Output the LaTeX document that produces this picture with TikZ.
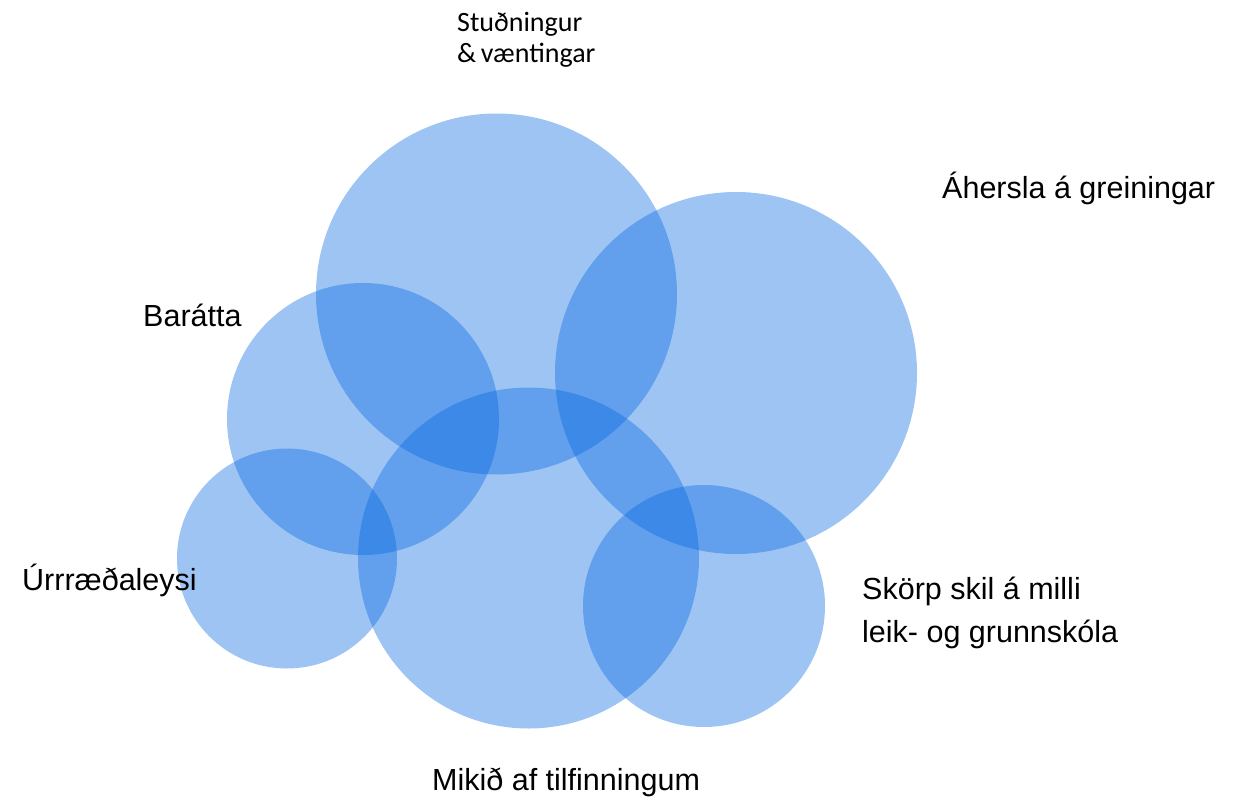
\documentclass[tikz,border=0pt]{standalone}
\usepackage{fontspec}
\setmainfont{Liberation Sans}
\newfontfamily\cali{Carlito}
\definecolor{bubble}{RGB}{0,100,225}
\begin{document}
\begin{tikzpicture}[x=1pt,y=-1pt,
  bub/.style={circle,inner sep=0pt,draw=none,fill=bubble,fill opacity=0.38},
  lab/.style={inner sep=0pt,anchor=base west,align=left,font=\fontsize{30.5}{43}\selectfont},
  labc/.style={inner sep=0pt,anchor=base west,align=left,font=\cali\fontsize{28}{31}\selectfont}]
\useasboundingbox (0,0) rectangle (1236,805);
\node[bub,minimum size=361pt] (c1) at (496.5,294) {};
\node[bub,minimum size=362pt] (c2) at (736,373) {};
\node[bub,minimum size=272pt] (c3) at (363,419) {};
\node[bub,minimum size=220pt] (c4) at (287,558.5) {};
\node[bub,minimum size=341pt] (c5) at (528.5,558) {};
\node[bub,minimum size=242pt] (c6) at (704,606) {};
\node[labc] (t1) at (457,63) {Stuðningur\\\&\,væntingar};
\node[lab] (t2) at (942,198) {Áhersla á greiningar};
\node[lab] (t3) at (143,326) {Barátta};
\node[lab] (t4) at (22,590) {Úrrræðaleysi};
\node[lab] (t5) at (862,642) {Skörp skil á milli\\leik- og grunnskóla};
\node[lab] (t6) at (432,790) {Mikið af tilfinningum};
\end{tikzpicture}
\end{document}
